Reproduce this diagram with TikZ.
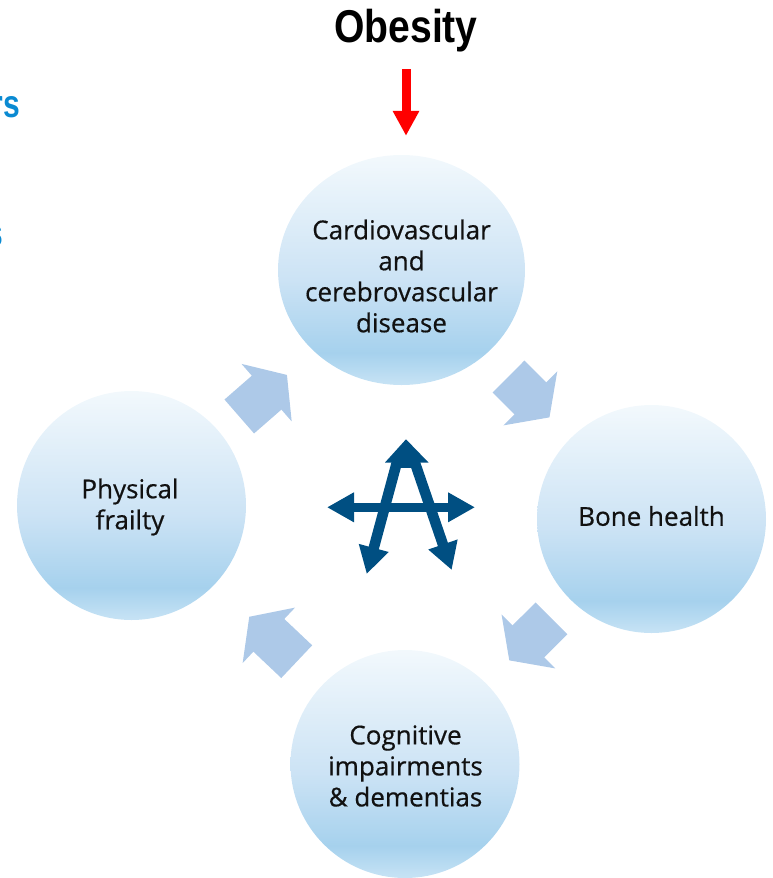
\documentclass[tikz,border=0pt]{standalone}
\usepackage{fontspec}
\usepackage{graphicx}
\usetikzlibrary{arrows.meta,shapes.geometric}
\setmainfont{Open Sans}
\newfontfamily\headfont{Liberation Sans}
\newfontfamily\ballfont[FakeBold=0.5]{Open Sans}
\definecolor{navy}{HTML}{004F82}
\definecolor{blockblue}{HTML}{ADC9E8}
\definecolor{cutblue}{HTML}{0A8AD2}
\definecolor{inkblack}{HTML}{111111}
\pgfdeclareverticalshading{ballshade}{100bp}{
  rgb(0bp)=(0.78,0.89,0.96);
  rgb(25bp)=(0.78,0.89,0.96);
  rgb(32bp)=(0.65,0.82,0.93);
  rgb(48bp)=(0.80,0.89,0.96);
  rgb(75bp)=(0.95,0.975,0.99);
  rgb(100bp)=(0.95,0.975,0.99)}
\tikzset{
  ball/.style={ellipse,inner sep=0pt,shading=ballshade},
  balltext/.style={font=\ballfont\fontsize{26}{31}\selectfont,align=center,text=inkblack,inner sep=0pt},
  cycle arrow/.style={draw=blockblue,line width=45pt,
    -{Triangle[length=27pt,width=75pt,fill=blockblue]}},
  logo line/.style={draw=navy,line width=9.5pt},
  logo leg/.style={draw=navy,line width=10.5pt,-{Triangle[length=27pt,width=29pt,fill=navy]}},
  logo tip/.style={fill=navy,draw=none},
  cuttext/.style={anchor=base east,inner sep=0pt,text=cutblue,
    font=\headfont\bfseries\fontsize{30}{30}\selectfont}
}
\begin{document}
\begin{tikzpicture}[x=1pt,y=-1pt]
\useasboundingbox (0,0) rectangle (773,878);
\clip (0,0) rectangle (773,878);
% circles
\node[ball,minimum width=247pt,minimum height=230pt] (top) at (401.5,270) {};
\node[ball,minimum width=229pt,minimum height=228pt] (right) at (651.5,519) {};
\node[ball,minimum width=229pt,minimum height=228pt] (bottom) at (405,764) {};
\node[ball,minimum width=229pt,minimum height=229pt] (left) at (131.5,505.5) {};
% circle labels
\node[balltext] (toptext) at (401.5,276) {Cardiovascular\\and\\cerebrovascular\\disease};
\node[balltext] (righttext) at (651.5,516) {Bone health};
\node[balltext] (bottomtext) at (405.5,766) {Cognitive\\impairments\\\& dementias};
\node[balltext] (lefttext) at (130,507) {Physical\\frailty};
% heading
\node[inner sep=0pt,text=black,font=\headfont\bfseries\fontsize{46}{46}\selectfont] (obesity) at (406,31) {\scalebox{.85}[1]{Obesity}};
\node[cuttext] (cutone) at (20,117) {\scalebox{1}[1.3]{rs}};
\node[cuttext] (cuttwo) at (3,246) {\scalebox{1}[1.3]{s}};
% connectors
\draw[draw=red,line width=9pt,-{Triangle[length=25pt,width=25pt,fill=red]},shorten <=38pt,shorten >=19pt]
  (obesity.center) -- (obesity.center |- top.north);
\draw[cycle arrow,shorten <=151pt,shorten >=144pt] (top.center) -- (right.center);
\draw[cycle arrow,shorten <=141pt,shorten >=147pt] (right.center) -- (bottom.center);
\draw[cycle arrow,shorten <=149pt,shorten >=162pt] (bottom.center) -- (left.center);
\draw[cycle arrow,shorten <=143pt,shorten >=152pt] ([yshift=-5pt]left.center) -- ([yshift=-5pt]top.center);
% central logo
\draw[logo line,{Triangle[length=27pt,width=28pt,fill=navy]}-{Triangle[length=27pt,width=28pt,fill=navy]}] (327,507.3) -- (475,507.3);
\draw[logo leg] (396.7,463) -- (366.7,574);
\draw[logo leg] (415,463) -- (451.7,570);
\fill[logo tip] (406,439.3) -- (428.5,462.5) -- (385,462.5) -- cycle;
\fill[logo tip] (392,462) rectangle (420,468);
\end{tikzpicture}
\end{document}
